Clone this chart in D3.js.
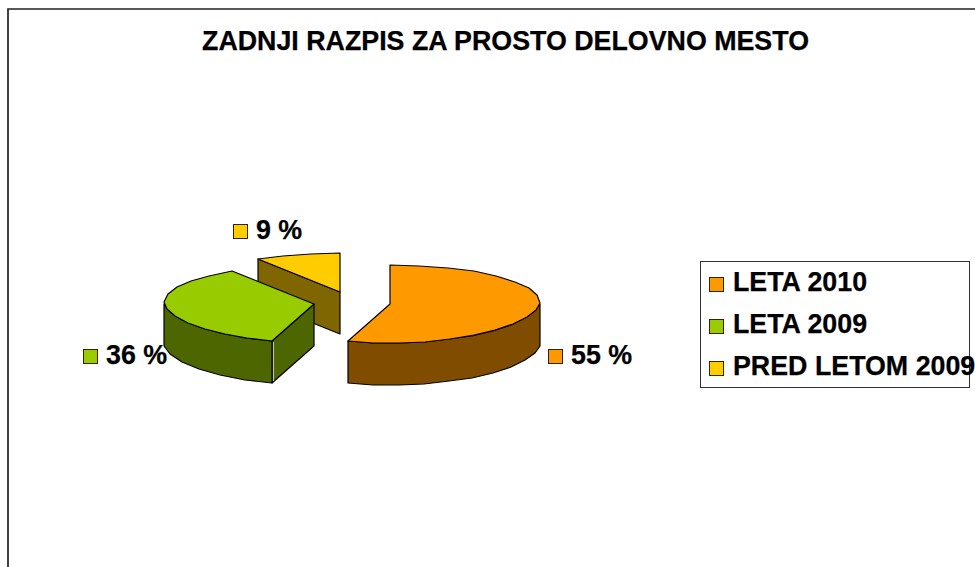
<!DOCTYPE html>
<html><head><meta charset="utf-8">
<script src="https://cdn.jsdelivr.net/npm/d3@7"></script>
<style>
html,body{margin:0;padding:0;background:#fff}
svg{display:block}
text{font-family:"Liberation Sans",Arial,sans-serif;font-weight:bold;fill:#000;stroke:#000;stroke-width:.25px}
</style></head><body>
<div id="chart"></div>
<script>
const title = "ZADNJI RAZPIS ZA PROSTO DELOVNO MESTO";
const categories = ["LETA 2010", "LETA 2009", "PRED LETOM 2009"];
const values = [55, 36, 9];
const valueLabels = ["55 %", "36 %", "9 %"];
const topColors = ["#FF9900", "#99CC00", "#FFCC00"];
const sideColors = ["#804D00", "#4D6600", "#806600"];

const W = 975, H = 567;
const svg = d3.select("#chart").append("svg").attr("width", W).attr("height", H);

svg.append("path").attr("d", `M8,${H}V9H${W}`)
  .attr("fill", "none").attr("stroke", "#222").attr("stroke-width", 1.7);

svg.append("text").attr("x", 505.5).attr("y", 50).attr("text-anchor", "middle")
  .attr("font-size", 26.8).text(title);

const rx = 150, ry = 39, depth = 42;
const centers = [[390, 304], [314, 304], [340, 292]];
const labelPos = [[548, 364], [83, 364], [233, 239]];
const pie = d3.pie().sort(null).value(d => d);
const arcs = pie(values);
// mild perspective: the front of the ellipse is a little narrower
const persp = a => 1 + (Math.cos(a) < 0 ? 0.09 : 0.03) * Math.cos(a);
const px = (c, a) => c[0] + rx * persp(a) * Math.sin(a);
const py = (c, a) => c[1] - ry * Math.cos(a);

function arcPoints(c, a0, a1, dy) {
  const n = Math.max(2, Math.round(Math.abs(a1 - a0) / (Math.PI / 16)));
  return d3.range(n + 1).map(i => {
    const a = a0 + (a1 - a0) * i / n;
    return [Math.round(px(c, a)), Math.round(py(c, a)) + dy];
  });
}
const line = d3.line();
const g = svg.append("g").attr("stroke", "#000").attr("stroke-width", 1.2).attr("stroke-linejoin", "round");

[2, 1, 0].forEach(i => {
  const c = centers[i], a = arcs[i];
  const sg = g.append("g");
  if (i > 0) {
    const e = [Math.round(px(c, a.startAngle)), Math.round(py(c, a.startAngle))];
    sg.append("path").attr("fill", sideColors[i])
      .attr("d", line([c, e, [e[0], e[1] + depth], [c[0], c[1] + depth]]) + "Z");
  }
  if (i < 2) {
    const from = Math.max(a.startAngle, Math.PI / 2);
    const to = Math.min(a.endAngle, 3 * Math.PI / 2);
    const t = arcPoints(c, from, to, 0);
    const b = arcPoints(c, to, from, depth);
    sg.append("path").attr("fill", sideColors[i]).attr("d", line(t.concat(b)) + "Z");
  }
  if (i === 1) {
    const x = Math.round(px(c, a.startAngle)) + 1.5, y = Math.round(py(c, a.startAngle));
    sg.append("path").attr("d", `M${x},${y + 1}V${y + depth - 2}`).attr("stroke", "#bbb").attr("stroke-width", 1.2);
  }
  const top = [c].concat(arcPoints(c, a.startAngle, a.endAngle, 0));
  sg.append("path").attr("fill", topColors[i]).attr("d", line(top) + "Z");
});

valueLabels.forEach((t, i) => {
  const [x, y] = labelPos[i];
  svg.append("rect").attr("x", x + .5).attr("y", y - 14.5).attr("width", 14).attr("height", 14)
    .attr("fill", topColors[i]).attr("stroke", "#332200");
  svg.append("text").attr("x", x + 23).attr("y", y).attr("font-size", 26.8).text(t);
});

svg.append("rect").attr("x", 700.5).attr("y", 261.5).attr("width", 269).attr("height", 126)
  .attr("fill", "#fff").attr("stroke", "#333");
const ly = d3.scalePoint().domain(categories).range([291, 375]);
categories.forEach((t, i) => {
  svg.append("rect").attr("x", 709.5).attr("y", ly(t) - 13.5).attr("width", 14).attr("height", 14)
    .attr("fill", topColors[i]).attr("stroke", "#332200");
  svg.append("text").attr("x", 733).attr("y", ly(t)).attr("font-size", 26.8).text(t);
});
</script>
</body></html>
